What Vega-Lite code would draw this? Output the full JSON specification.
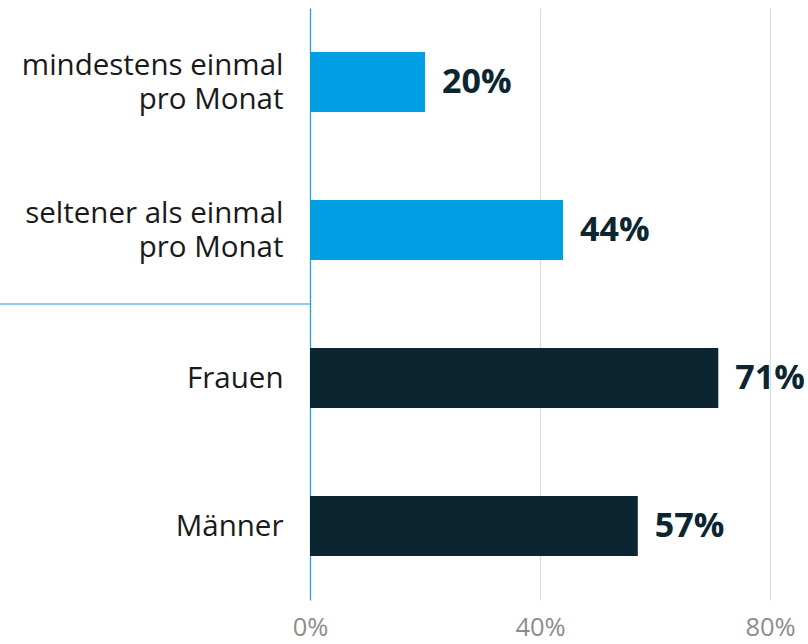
{
  "$schema": "https://vega.github.io/schema/vega-lite/v6.json",
  "width": 498,
  "height": 592,
  "autosize": "none",
  "padding": {"left": 310, "top": 8, "right": 0, "bottom": 44},
  "background": "white",
  "config": {"view": {"stroke": null}, "font": "Open Sans"},
  "data": {
    "values": [
      {"kategorie": "mindestens einmal pro Monat", "gruppe": "Häufigkeit", "anteil": 0.20},
      {"kategorie": "seltener als einmal pro Monat", "gruppe": "Häufigkeit", "anteil": 0.44},
      {"kategorie": "Frauen", "gruppe": "Geschlecht", "anteil": 0.71},
      {"kategorie": "Männer", "gruppe": "Geschlecht", "anteil": 0.57}
    ]
  },
  "encoding": {
    "y": {
      "field": "kategorie",
      "type": "nominal",
      "sort": null,
      "scale": {"paddingInner": 0.595, "paddingOuter": 0.2975},
      "axis": {
        "title": null,
        "domainColor": "#1a9ee0",
        "domainWidth": 1.2,
        "ticks": false,
        "labelPadding": 27,
        "labelFontSize": 29.5,
        "labelColor": "#1a1a1a",
        "labelLineHeight": 34,
        "labelLimit": 400,
        "labelOffset": {"condition": {"test": "indexof(datum.value, ' pro ') > 0", "value": -16}, "value": 1},
        "labelExpr": "indexof(datum.value, ' pro ') > 0 ? [substring(datum.value, 0, indexof(datum.value, ' pro ')), 'pro Monat'] : datum.value"
      }
    },
    "x": {
      "field": "anteil",
      "type": "quantitative",
      "scale": {"domain": [0, 0.866], "nice": false},
      "axis": {
        "title": null,
        "values": [0, 0.4, 0.8],
        "format": ".0%",
        "domain": false,
        "ticks": false,
        "gridColor": "#dddddd",
        "gridWidth": 1.2,
        "labelFontSize": 25.5,
        "labelColor": "#8c8c8c",
        "labelPadding": 15,
        "labelFlush": false
      }
    }
  },
  "layer": [
    {
      "mark": {"type": "bar"},
      "encoding": {
        "color": {
          "field": "gruppe",
          "type": "nominal",
          "scale": {"domain": ["Häufigkeit", "Geschlecht"], "range": ["#009ee3", "#0b2630"]},
          "legend": null
        }
      }
    },
    {
      "transform": [{"filter": "datum.kategorie == 'seltener als einmal pro Monat'"}],
      "mark": {"type": "rule", "color": "#1a9ee0", "strokeWidth": 1.2, "clip": false},
      "encoding": {
        "y": {"field": "kategorie", "type": "nominal", "sort": null, "bandPosition": 1.7346},
        "x": {"datum": -0.54},
        "x2": {"datum": 0}
      }
    },
    {
      "mark": {"type": "text", "align": "left", "baseline": "middle", "dx": 17, "dy": 1, "fontSize": 34, "fontWeight": "bold", "color": "#0b2630"},
      "encoding": {
        "text": {"field": "anteil", "type": "quantitative", "format": ".0%"}
      }
    }
  ]
}
